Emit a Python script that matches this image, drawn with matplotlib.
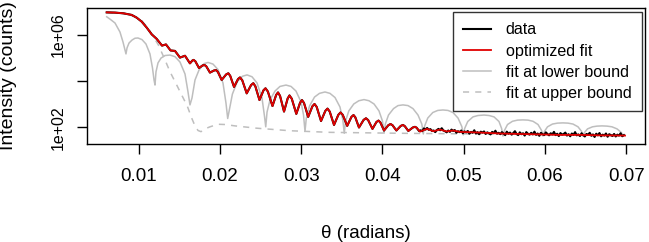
import numpy as np
import matplotlib
matplotlib.use("Agg")
import matplotlib.pyplot as plt
from matplotlib.ticker import NullLocator

plt.rcParams['font.family'] = ['Liberation Sans', 'DejaVu Sans']

# optimized fit (theta in radians, log10 of counts)
fit_theta = [0.00609, 0.00711, 0.00813, 0.00916, 0.00978, 0.01039, 0.01101, 0.01162, 0.01224,
             0.01289, 0.01338, 0.01394, 0.01449, 0.01510, 0.01572, 0.01633,
             0.01662, 0.01677, 0.01699, 0.01744,
             0.01789, 0.01812, 0.01834, 0.01879,
             0.01928, 0.01953, 0.01976, 0.02023,
             0.02078, 0.02105, 0.02128, 0.02175,
             0.02224, 0.02248, 0.02276, 0.02331,
             0.02385, 0.02412, 0.02437, 0.02488,
             0.02537, 0.02562, 0.02591, 0.02648,
             0.02693, 0.02716, 0.02741, 0.02790,
             0.02835, 0.02857, 0.02885, 0.02941,
             0.02988, 0.03011, 0.03036, 0.03087,
             0.03139, 0.03165, 0.03192, 0.03245,
             0.03298, 0.03325, 0.03352, 0.03405,
             0.03458, 0.03485, 0.03512, 0.03567,
             0.03619, 0.03645, 0.03667, 0.03712,
             0.03769, 0.03798, 0.03825, 0.03878,
             0.03927, 0.03952, 0.03975, 0.04020,
             0.04073, 0.04100, 0.04124, 0.04172,
             0.04226, 0.04253, 0.04275, 0.04319,
             0.04374, 0.04401, 0.04421, 0.04462,
             0.04549, 0.04626, 0.04708, 0.04791, 0.04868, 0.04954, 0.05200, 0.05446, 0.05692,
             0.05938, 0.06184, 0.06430, 0.06676, 0.06984]
fit_log = [6.98, 6.97, 6.94, 6.87, 6.75, 6.58, 6.32, 6.03, 5.83,
           5.54, 5.59, 5.33, 5.31, 5.02, 5.10, 4.77,
           4.89, 4.92, 4.86, 4.57,
           4.68, 4.70, 4.64, 4.37,
           4.46, 4.48, 4.40, 4.05,
           4.29, 4.34, 4.23, 3.75,
           4.09, 4.16, 4.04, 3.47,
           3.83, 3.91, 3.78, 3.18,
           3.60, 3.69, 3.55, 2.92,
           3.40, 3.51, 3.36, 2.68,
           3.25, 3.38, 3.24, 2.58,
           3.07, 3.18, 3.05, 2.45,
           2.91, 3.01, 2.88, 2.27,
           2.71, 2.81, 2.68, 2.10,
           2.54, 2.64, 2.54, 2.06,
           2.45, 2.53, 2.43, 1.99,
           2.32, 2.39, 2.31, 1.93,
           2.23, 2.29, 2.21, 1.86,
           2.09, 2.14, 2.09, 1.86,
           2.06, 2.10, 2.05, 1.84,
           1.99, 2.02, 1.98, 1.81,
           1.93, 1.83, 1.90, 1.82, 1.86, 1.80, 1.77, 1.73, 1.71,
           1.69, 1.67, 1.67, 1.65, 1.64]

# fit at lower bound
lower_theta = [0.00609, 0.00649, 0.00711, 0.00772, 0.00809, 0.00846,
               0.00859, 0.00883, 0.00920, 0.00957, 0.00994, 0.01043, 0.01092, 0.01141, 0.01172, 0.01191, 0.01203,
               0.01215, 0.01240, 0.01277, 0.01326, 0.01387, 0.01449, 0.01510, 0.01572, 0.01609, 0.01633,
               0.01658, 0.01695, 0.01744, 0.01806, 0.01855, 0.01916, 0.01978, 0.02039, 0.02076, 0.02097,
               0.02118, 0.02155, 0.02216, 0.02278, 0.02335, 0.02396, 0.02458, 0.02519, 0.02550, 0.02565,
               0.02581, 0.02617, 0.02679, 0.02740, 0.02814, 0.02876, 0.02937, 0.02999, 0.03030, 0.03048,
               0.03064, 0.03103, 0.03165, 0.03226, 0.03294, 0.03355, 0.03417, 0.03478, 0.03513, 0.03531,
               0.03547, 0.03587, 0.03648, 0.03710, 0.03774, 0.03835, 0.03897, 0.03958, 0.04001, 0.04020,
               0.04036, 0.04075, 0.04137, 0.04192, 0.04253, 0.04315, 0.04376, 0.04438, 0.04485, 0.04503,
               0.04520, 0.04558, 0.04620, 0.04681, 0.04745, 0.04807, 0.04868, 0.04930, 0.04977, 0.04995,
               0.05012, 0.05050, 0.05114, 0.05176, 0.05250, 0.05311, 0.05373, 0.05434, 0.05466, 0.05483,
               0.05501, 0.05539, 0.05600, 0.05662, 0.05729, 0.05791, 0.05852, 0.05914, 0.05958, 0.05975,
               0.05993, 0.06031, 0.06092, 0.06154, 0.06221, 0.06283, 0.06344, 0.06406, 0.06450, 0.06467,
               0.06485, 0.06523, 0.06584, 0.06640, 0.06701, 0.06763, 0.06824, 0.06886, 0.06940, 0.06959]
lower_log = [6.79, 6.69, 6.52, 6.13, 5.70, 5.18,
             5.44, 5.65, 5.78, 5.86, 5.87, 5.80, 5.61, 5.18, 4.57, 4.05, 3.83,
             4.40, 4.79, 5.00, 5.11, 5.13, 5.06, 4.83, 4.31, 3.53, 2.97,
             3.27, 4.05, 4.48, 4.76, 4.81, 4.74, 4.50, 3.92, 3.05, 2.38,
             2.77, 3.44, 3.98, 4.21, 4.27, 4.19, 3.92, 3.27, 2.47, 2.02,
             2.66, 3.18, 3.57, 3.77, 3.83, 3.77, 3.57, 3.10, 2.53, 1.82,
             2.40, 2.92, 3.31, 3.47, 3.53, 3.47, 3.29, 2.88, 2.32, 1.74,
             2.27, 2.71, 3.01, 3.15, 3.20, 3.15, 3.01, 2.71, 2.27, 1.74,
             2.14, 2.53, 2.81, 2.94, 2.97, 2.94, 2.81, 2.53, 2.14, 1.71,
             2.06, 2.40, 2.64, 2.73, 2.75, 2.73, 2.64, 2.40, 2.03, 1.67,
             1.95, 2.25, 2.45, 2.51, 2.53, 2.51, 2.45, 2.25, 1.95, 1.62,
             1.86, 2.12, 2.26, 2.31, 2.32, 2.31, 2.26, 2.12, 1.86, 1.62,
             1.82, 2.02, 2.14, 2.18, 2.19, 2.18, 2.14, 2.02, 1.82, 1.62,
             1.77, 1.93, 2.02, 2.05, 2.06, 2.05, 2.02, 1.93, 1.77, 1.62]

# fit at upper bound
upper_theta = [0.00609, 0.00834, 0.00957, 0.01043, 0.01117, 0.01178, 0.01244, 0.01326, 0.01387,
               0.01449, 0.01531, 0.01600, 0.01654, 0.01695, 0.01732, 0.01769, 0.01818, 0.01879,
               0.01978, 0.02064, 0.02187, 0.02454, 0.02863, 0.03355, 0.04216, 0.05446, 0.06984]
upper_log = [6.98, 6.93, 6.80, 6.61, 6.30, 5.96, 5.57, 4.92, 4.41,
             3.98, 3.40, 2.92, 2.40, 2.06, 1.86, 1.81, 1.93, 2.02,
             2.13, 2.12, 2.06, 1.96, 1.85, 1.78, 1.74, 1.70, 1.67]

# measured data: below 0.0445 it sits on the fit, above that it is noise
tail_log = [1.84, 1.87, 1.83, 1.95, 1.90, 1.97, 1.89, 1.92, 1.84, 1.86,
            1.79, 1.88, 1.93, 1.87, 1.96, 1.86, 1.83, 1.78, 1.86, 1.80,
            1.90, 1.84, 1.88, 1.76, 1.83, 1.79, 1.86, 1.74, 1.82, 1.78,
            1.84, 1.72, 1.80, 1.76, 1.87, 1.73, 1.79, 1.70, 1.81, 1.77,
            1.82, 1.71, 1.78, 1.74, 1.69, 1.80, 1.75, 1.85, 1.72, 1.76,
            1.70, 1.79, 1.73, 1.66, 1.81, 1.72, 1.77, 1.68, 1.75, 1.83,
            1.71, 1.66, 1.78, 1.70, 1.74, 1.64, 1.79, 1.72, 1.68, 1.76,
            1.69, 1.81, 1.67, 1.73, 1.63, 1.76, 1.70, 1.66, 1.78, 1.71,
            1.65, 1.74, 1.69, 1.80, 1.66, 1.72, 1.62, 1.75, 1.68, 1.71,
            1.77, 1.64, 1.70, 1.61, 1.73, 1.67, 1.79, 1.65, 1.69, 1.62,
            1.74, 1.66, 1.60, 1.71, 1.68, 1.76, 1.63, 1.69, 1.58, 1.72,
            1.65, 1.75, 1.61, 1.68, 1.64, 1.73, 1.59, 1.70, 1.66, 1.62,
            1.71, 1.60, 1.68, 1.64, 1.74, 1.61, 1.66]
tail_theta = np.linspace(0.0445, 0.0697, len(tail_log))

x_ticks = [0.01, 0.02, 0.03, 0.04, 0.05, 0.06, 0.07]
y_ticks = [1e2, 1e4, 1e6]
y_labels = ['1e+02', '', '1e+06']

fit_theta = np.array(fit_theta)
fit_counts = 10 ** np.array(fit_log)
head = fit_theta < 0.0445
data_theta = np.concatenate([fit_theta[head], tail_theta])
data_counts = np.concatenate([fit_counts[head], 10 ** np.array(tail_log)])

fig = plt.figure(figsize=(6.49, 2.42), dpi=100)
ax = fig.add_axes([87 / 649, 1 - 144 / 242, 558 / 649, 136 / 242])

ax.plot(lower_theta, 10 ** np.array(lower_log), color='#bebebe', lw=1.1, label='fit at lower bound')
ax.plot(upper_theta, 10 ** np.array(upper_log), color='#bebebe', lw=1.1, dashes=(4, 4),
        label='fit at upper bound')
ax.plot(data_theta, data_counts, color='black', lw=1.5, label='data')
ax.plot(fit_theta, fit_counts, color='#e00000', lw=1.3, label='optimized fit',
        solid_joinstyle='round')

ax.set_yscale('log')
ax.set_xlim(0.003665, 0.0723)
ax.set_ylim(10 ** 1.275, 10 ** 7.17)
ax.set_xticks(x_ticks)
ax.set_xticklabels([f'{t:.2f}' for t in x_ticks])
ax.set_yticks(y_ticks)
ax.set_yticklabels(y_labels, rotation=90, va='center')
ax.yaxis.set_minor_locator(NullLocator())
ax.tick_params(axis='x', direction='out', length=7, width=1, labelsize=13.5, pad=10)
ax.tick_params(axis='y', direction='out', length=7, width=1, labelsize=11.5, pad=8)
for s in ax.spines.values():
    s.set_linewidth(1)

ax.set_xlabel('θ (radians)', fontsize=13.5, labelpad=29)
ax.set_ylabel('Intensity (counts)', fontsize=14)
ax.yaxis.set_label_coords(-0.1254, 0.5)

h, l = ax.get_legend_handles_labels()
order = [2, 3, 0, 1]
leg = ax.legend([h[i] for i in order], [l[i] for i in order], loc='upper right',
                bbox_to_anchor=(0.9946, 0.9706), fontsize=11.6, frameon=True, fancybox=False,
                edgecolor='black', handlelength=1.75, handletextpad=0.9, labelspacing=0.38,
                borderpad=0.65, borderaxespad=0)
leg.get_frame().set_linewidth(1)

fig.savefig('out.png', dpi=100)
